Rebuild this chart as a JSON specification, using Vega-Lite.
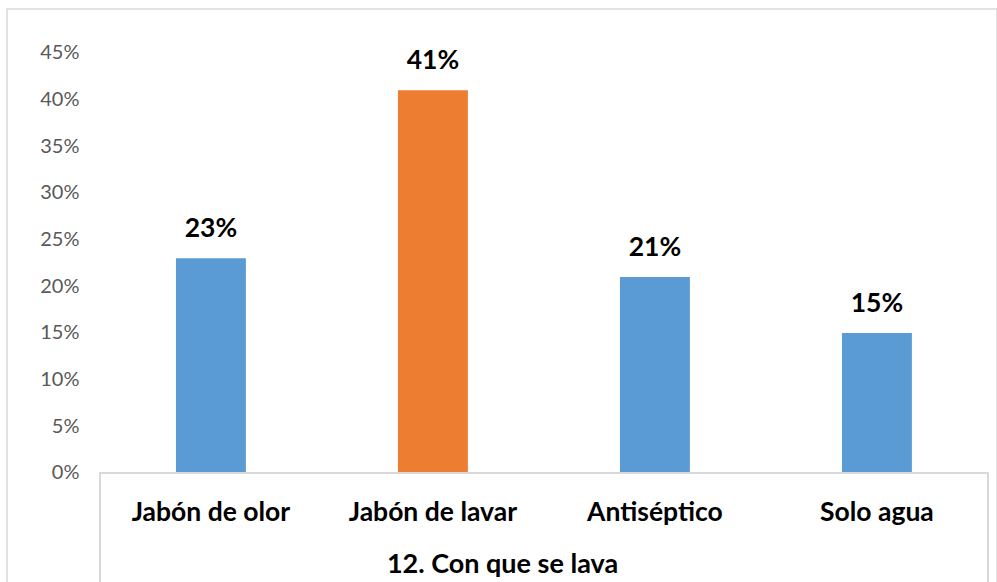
{
  "$schema": "https://vega.github.io/schema/vega-lite/v6.json",
  "width": 990,
  "height": 583,
  "autosize": {"type": "none"},
  "padding": {"left": 7, "top": 9, "right": 0, "bottom": 0},
  "background": "white",
  "config": {
    "view": {"stroke": "#d9d9d9", "strokeWidth": 1.5},
    "font": "Lato"
  },
  "data": {
    "values": [
      {"categoria": "Jabón de olor", "porcentaje": 0.23, "grupo": "resto"},
      {"categoria": "Jabón de lavar", "porcentaje": 0.41, "grupo": "mayor"},
      {"categoria": "Antiséptico", "porcentaje": 0.21, "grupo": "resto"},
      {"categoria": "Solo agua", "porcentaje": 0.15, "grupo": "resto"}
    ]
  },
  "layer": [
    {
      "mark": {"type": "bar"},
      "encoding": {
        "x": {
          "field": "categoria",
          "type": "nominal",
          "sort": null,
          "scale": {"paddingInner": 0.685, "paddingOuter": 0.5722, "align": 0.665},
          "axis": {
            "orient": "bottom",
            "offset": -119,
            "domain": false,
            "ticks": false,
            "tickSize": 0,
            "labelAngle": 0,
            "labelPadding": 26,
            "labelFont": "Lato",
            "labelFontSize": 26.5,
            "labelFontWeight": "bold",
            "labelColor": "#000000",
            "title": "12. Con que se lava",
            "titleFont": "Lato",
            "titleFontSize": 27,
            "titleFontWeight": "bold",
            "titleColor": "#000000",
            "titlePadding": 26
          }
        },
        "y": {
          "field": "porcentaje",
          "type": "quantitative",
          "scale": {"domain": [-0.1275, 0.49714], "nice": false, "zero": false},
          "axis": {
            "values": [0, 0.05, 0.1, 0.15, 0.2, 0.25, 0.3, 0.35, 0.4, 0.45],
            "format": ".0%",
            "domain": false,
            "ticks": false,
            "tickSize": 0,
            "grid": false,
            "offset": -72,
            "labelPadding": 0,
            "labelFont": "Lato",
            "labelFontSize": 20,
            "labelColor": "#595959",
            "title": null
          }
        },
        "y2": {"datum": 0},
        "color": {
          "field": "grupo",
          "type": "nominal",
          "scale": {"domain": ["resto", "mayor"], "range": ["#5B9BD5", "#ED7D31"]},
          "legend": null
        }
      }
    },
    {
      "mark": {"type": "text", "font": "Lato", "fontWeight": "bold", "fontSize": 26.5, "baseline": "alphabetic", "dy": -21, "color": "#000000"},
      "encoding": {
        "x": {"field": "categoria", "type": "nominal", "sort": null},
        "y": {"field": "porcentaje", "type": "quantitative"},
        "text": {"field": "porcentaje", "type": "quantitative", "format": ".0%"}
      }
    },
    {
      "mark": {"type": "rect", "fill": null, "stroke": "#d9d9d9", "strokeWidth": 1.5},
      "encoding": {
        "x": {"datum": "Jabón de olor", "type": "nominal", "bandPosition": -1.087},
        "x2": {"datum": "Solo agua", "bandPosition": 2.089},
        "y": {"datum": 0, "type": "quantitative"},
        "y2": {"datum": -0.2}
      }
    }
  ]
}
